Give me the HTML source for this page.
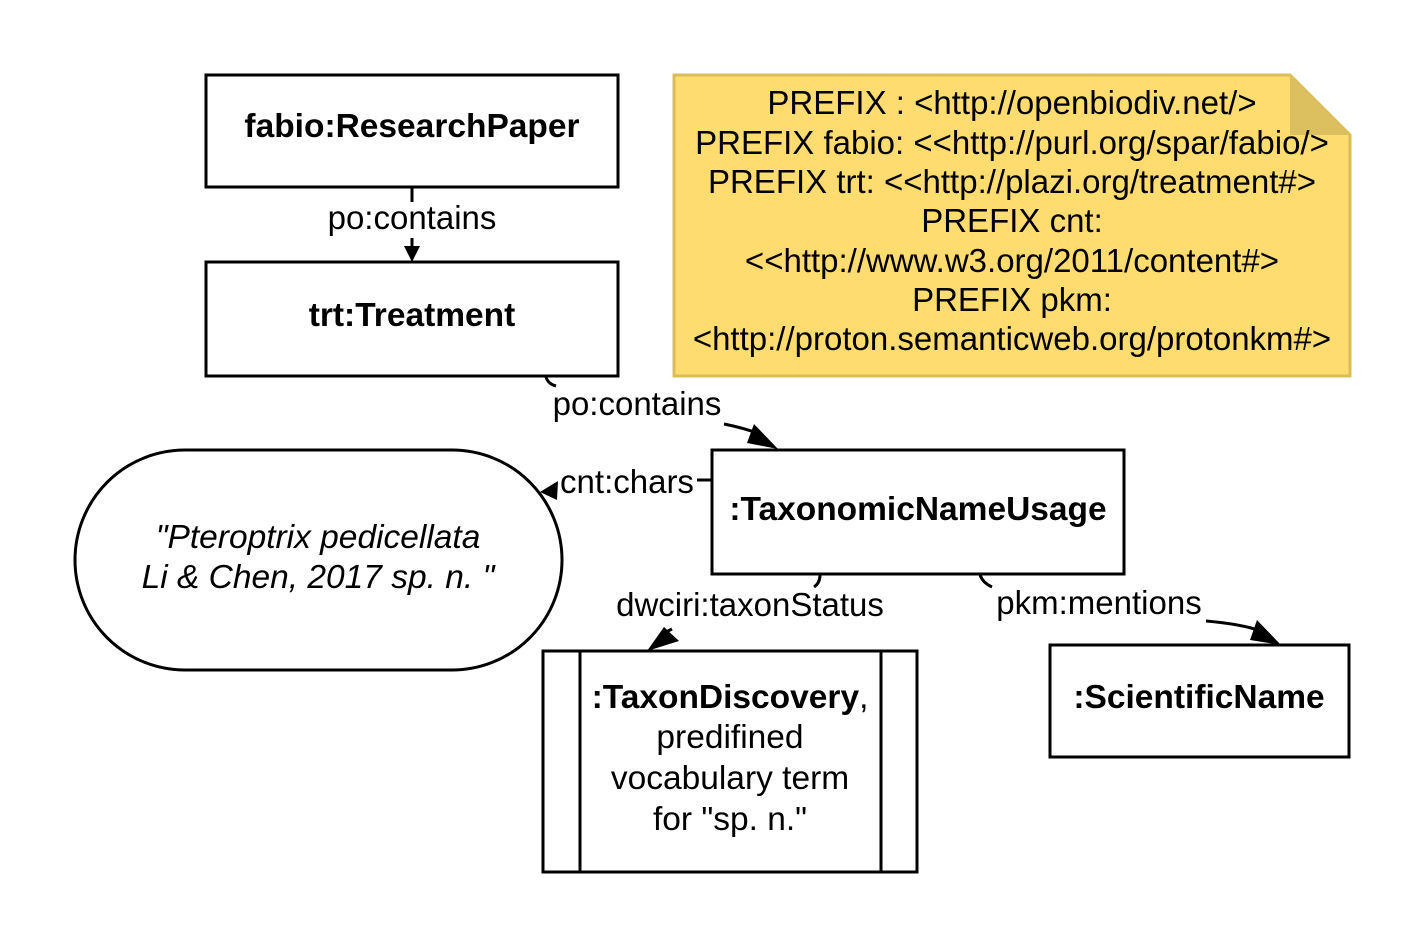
<!DOCTYPE html>
<html><head><meta charset="utf-8"><style>
html,body{margin:0;padding:0;background:#fff;}
svg{display:block;}
text{font-family:"Liberation Sans",Arial,sans-serif;fill:#000;}
</style></head><body>
<svg width="1425" height="949" viewBox="0 0 1425 949" xmlns="http://www.w3.org/2000/svg">
<rect width="1425" height="949" fill="#fff"/>
<path d="M674,75 H1290 L1350,135 V376 H674 Z" fill="#fedc6f" stroke="#d9bd5a" stroke-width="3"/>
<path d="M1290,75 V135 H1350 Z" fill="#dcbf5e"/>
<g font-size="33" text-anchor="middle">
<text x="1012" y="114">PREFIX : &lt;http://openbiodiv.net/&gt;</text>
<text x="1012" y="154">PREFIX fabio: &lt;&lt;http://purl.org/spar/fabio/&gt;</text>
<text x="1012" y="193">PREFIX trt: &lt;&lt;http://plazi.org/treatment#&gt;</text>
<text x="1012" y="232">PREFIX cnt:</text>
<text x="1012" y="272">&lt;&lt;http://www.w3.org/2011/content#&gt;</text>
<text x="1012" y="311">PREFIX pkm:</text>
<text x="1012" y="350">&lt;http://proton.semanticweb.org/protonkm#&gt;</text>
</g>
<g fill="#fff" stroke="#000" stroke-width="3">
<rect x="206" y="75" width="412" height="112"/>
<rect x="206" y="262" width="412" height="114"/>
<rect x="712" y="450" width="412" height="124"/>
<rect x="1050" y="645" width="299" height="112"/>
<rect x="543" y="651" width="374" height="221"/>
<line x1="580" y1="651" x2="580" y2="872"/>
<line x1="881" y1="651" x2="881" y2="872"/>
<rect x="75" y="450" width="487" height="220" rx="110" ry="110"/>
</g>
<g font-size="33.5" font-weight="bold" text-anchor="middle">
<text x="412" y="137">fabio:ResearchPaper</text>
<text x="412" y="326">trt:Treatment</text>
<text x="918" y="520">:TaxonomicNameUsage</text>
<text x="1199" y="708">:ScientificName</text>
</g>
<g font-size="33.5" text-anchor="middle">
<text x="730" y="708"><tspan font-weight="bold">:TaxonDiscovery</tspan>,</text>
<text x="730" y="748">predifined</text>
<text x="730" y="789">vocabulary term</text>
<text x="730" y="830">for "sp. n."</text>
<text x="318" y="548" font-style="italic">"Pteroptrix pedicellata</text>
<text x="318" y="588" font-style="italic">Li &amp; Chen, 2017 sp. n. "</text>
</g>
<g fill="none" stroke="#000" stroke-width="3">
<line x1="412" y1="187" x2="412" y2="202"/>
<line x1="412" y1="238" x2="412" y2="250"/>
<path d="M546,377 q2,7 10,9"/>
<path d="M724,424 q20,4 36,10"/>
<line x1="697" y1="480" x2="712" y2="480"/>
<path d="M820,575 q0,8 -6,12"/>
<path d="M664,633 l8,-4"/>
<path d="M980,575 q3,8 12,12"/>
<path d="M1206,621 q35,3 55,10"/>
</g>
<g fill="#000">
<polygon points="404,246 420,246 412,262"/>
<polygon points="754,424 778,449 747,443"/>
<polygon points="540,492 558,481 557,500"/>
<polygon points="647,651 664,627 679,641"/>
<polygon points="1257,620 1281,645 1250,640"/>
</g>
<g font-size="33" text-anchor="middle">
<text x="412" y="229">po:contains</text>
<text x="637" y="415">po:contains</text>
<text x="627" y="493">cnt:chars</text>
<text x="750" y="616">dwciri:taxonStatus</text>
<text x="1099" y="614">pkm:mentions</text>
</g>
</svg>
</body></html>
